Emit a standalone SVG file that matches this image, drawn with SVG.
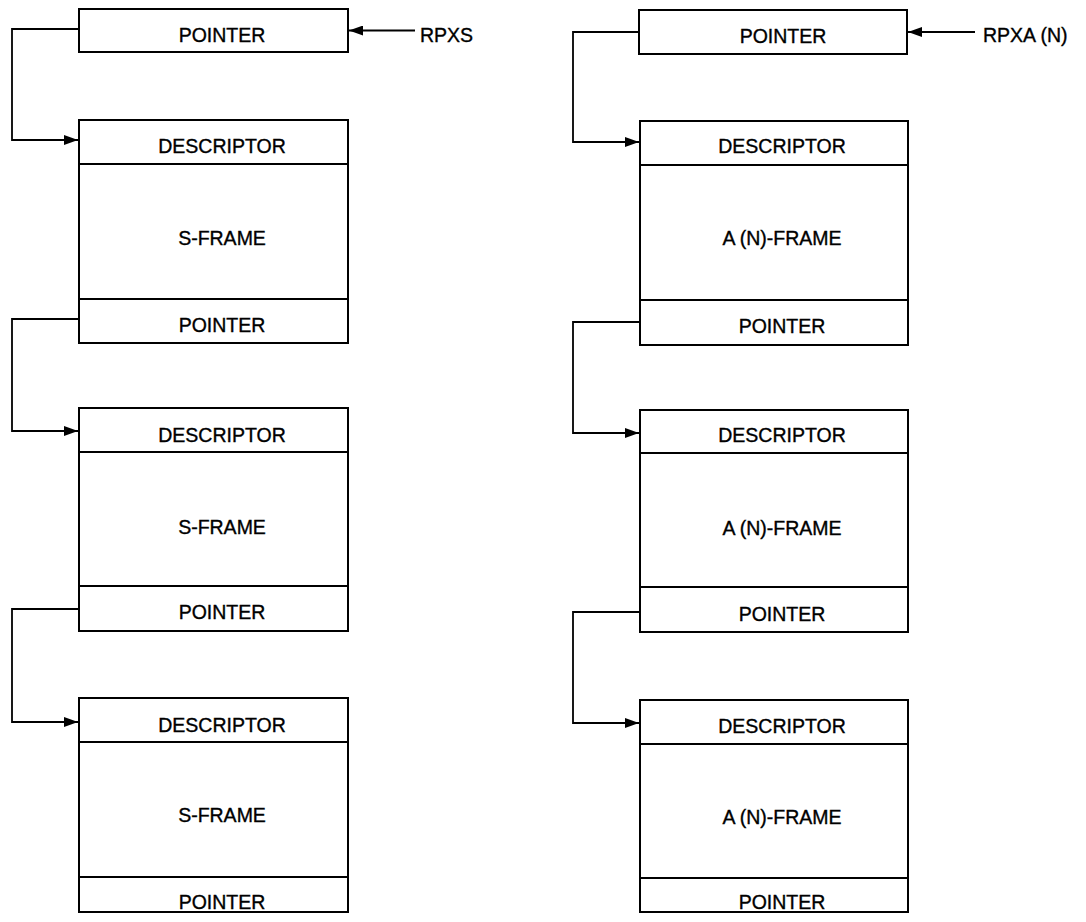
<svg xmlns="http://www.w3.org/2000/svg" width="1086" height="922" viewBox="0 0 1086 922">
<style>
.box{fill:#fff;stroke:#000;stroke-width:2}
.div{stroke:#000;stroke-width:2}
.lbl{font-family:"Liberation Sans",Arial,sans-serif;font-size:19.5px;fill:#000;stroke:#000;stroke-width:0.35;text-anchor:middle}
.ext{font-family:"Liberation Sans",Arial,sans-serif;font-size:19.5px;fill:#000;stroke:#000;stroke-width:0.35}
.con{fill:none;stroke:#000;stroke-width:1.8}
</style>
<defs>
<marker id="ah" viewBox="0 0 14 10" refX="14" refY="5" markerWidth="14" markerHeight="10" markerUnits="userSpaceOnUse" orient="auto">
<path d="M0,0 L14,5 L0,10 Z" fill="#000"/>
</marker>
</defs>
<rect width="1086" height="922" fill="#fff"/>
<g id="connectors">
<path class="con" d="M415,30.5 H349" marker-end="url(#ah)"/>
<path class="con" d="M79,29 H12 V140 H78" marker-end="url(#ah)"/>
<path class="con" d="M79,319 H12 V431 H78" marker-end="url(#ah)"/>
<path class="con" d="M79,609 H12 V722 H78" marker-end="url(#ah)"/>
<path class="con" d="M975,32 H908" marker-end="url(#ah)"/>
<path class="con" d="M640,32 H573 V142 H639" marker-end="url(#ah)"/>
<path class="con" d="M640,322 H573 V433 H639" marker-end="url(#ah)"/>
<path class="con" d="M640,612 H573 V723 H639" marker-end="url(#ah)"/>
</g>
<g id="rpxs"><text class="ext" x="420" y="42">RPXS</text></g>
<g id="rpxa"><text class="ext" x="983" y="42">RPXA (N)</text></g>
<g id="s-head">
<rect class="box" x="79" y="9" width="269" height="43"/>
<text class="lbl" x="222" y="42">POINTER</text>
</g>
<g id="s-frame-1">
<rect class="box" x="79" y="120" width="269" height="223"/>
<line class="div" x1="79" y1="164" x2="348" y2="164"/>
<line class="div" x1="79" y1="299" x2="348" y2="299"/>
<text class="lbl" x="222" y="153">DESCRIPTOR</text>
<text class="lbl" x="222" y="245">S-FRAME</text>
<text class="lbl" x="222" y="332">POINTER</text>
</g>
<g id="s-frame-2">
<rect class="box" x="79" y="408" width="269" height="223"/>
<line class="div" x1="79" y1="452" x2="348" y2="452"/>
<line class="div" x1="79" y1="586" x2="348" y2="586"/>
<text class="lbl" x="222" y="442">DESCRIPTOR</text>
<text class="lbl" x="222" y="534">S-FRAME</text>
<text class="lbl" x="222" y="619">POINTER</text>
</g>
<g id="s-frame-3">
<rect class="box" x="79" y="698" width="269" height="214"/>
<line class="div" x1="79" y1="742" x2="348" y2="742"/>
<line class="div" x1="79" y1="877" x2="348" y2="877"/>
<text class="lbl" x="222" y="732">DESCRIPTOR</text>
<text class="lbl" x="222" y="822">S-FRAME</text>
<text class="lbl" x="222" y="909">POINTER</text>
</g>
<g id="a-head">
<rect class="box" x="639" y="10" width="268" height="44"/>
<text class="lbl" x="783" y="43">POINTER</text>
</g>
<g id="a-frame-1">
<rect class="box" x="640" y="121" width="268" height="224"/>
<line class="div" x1="640" y1="165" x2="908" y2="165"/>
<line class="div" x1="640" y1="300" x2="908" y2="300"/>
<text class="lbl" x="782" y="153">DESCRIPTOR</text>
<text class="lbl" x="782" y="245">A (N)-FRAME</text>
<text class="lbl" x="782" y="333">POINTER</text>
</g>
<g id="a-frame-2">
<rect class="box" x="640" y="410" width="268" height="222"/>
<line class="div" x1="640" y1="453" x2="908" y2="453"/>
<line class="div" x1="640" y1="587" x2="908" y2="587"/>
<text class="lbl" x="782" y="442">DESCRIPTOR</text>
<text class="lbl" x="782" y="535">A (N)-FRAME</text>
<text class="lbl" x="782" y="621">POINTER</text>
</g>
<g id="a-frame-3">
<rect class="box" x="640" y="700" width="268" height="212"/>
<line class="div" x1="640" y1="744" x2="908" y2="744"/>
<line class="div" x1="640" y1="878" x2="908" y2="878"/>
<text class="lbl" x="782" y="733">DESCRIPTOR</text>
<text class="lbl" x="782" y="824">A (N)-FRAME</text>
<text class="lbl" x="782" y="909">POINTER</text>
</g>
</svg>
